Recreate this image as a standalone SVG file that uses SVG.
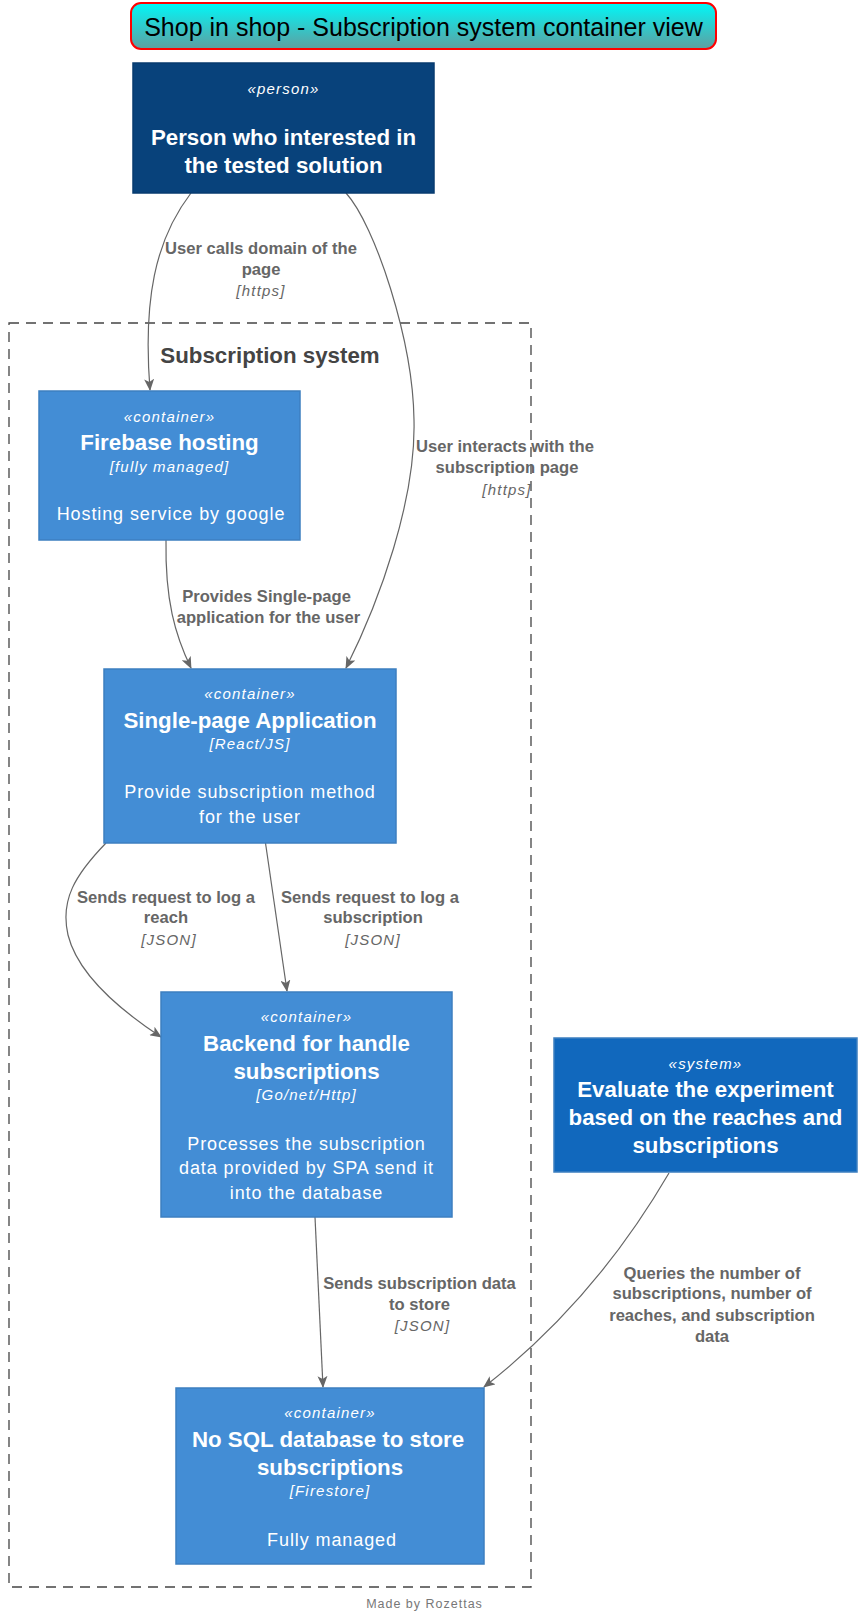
<svg xmlns="http://www.w3.org/2000/svg" width="863" height="1617" viewBox="0 0 863 1617">
<style>
text{font-family:"Liberation Sans",Arial,sans-serif;}
.st{fill:#fff;font-style:italic;font-size:15px;letter-spacing:1.2px;text-anchor:middle;}
.nm{fill:#fff;font-weight:bold;font-size:22.3px;text-anchor:middle;}
.tc{fill:#fff;font-style:italic;font-size:15px;letter-spacing:1.2px;text-anchor:middle;}
.ds{fill:#fff;font-size:18px;letter-spacing:0.9px;text-anchor:middle;}
.lb{fill:#666;font-weight:bold;font-size:16.6px;text-anchor:middle;}
.lt{fill:#666;font-style:italic;font-size:15px;letter-spacing:1.2px;text-anchor:middle;}
.cn{fill:#438dd5;stroke:#3c7fc0;stroke-width:1.5;}
.ln{fill:none;stroke:#666;stroke-width:1.2;}
</style>
<defs>
<linearGradient id="tg" x1="0" y1="0" x2="0" y2="1">
<stop offset="0" stop-color="#00f8f8"/>
<stop offset="1" stop-color="#5f9ea0"/>
</linearGradient>
<marker id="ah" markerWidth="12" markerHeight="10" refX="11" refY="5" orient="auto" markerUnits="userSpaceOnUse">
<path d="M0,0 L12,5 L0,10 L3,5 Z" fill="#666"/>
</marker>
</defs>
<rect width="863" height="1617" fill="#fff"/>
<g id="title">
<rect x="131" y="3" width="585" height="46" rx="10" fill="url(#tg)" stroke="#f00" stroke-width="2"/>
<text x="423.5" y="35.5" font-size="25" text-anchor="middle" fill="#000">Shop in shop - Subscription system container view</text>
</g>
<g id="boundary">
<rect x="9" y="323" width="522" height="1264" fill="none" stroke="#444" stroke-width="1.3" stroke-dasharray="10,7"/>
<text x="270" y="363" font-size="22.3" font-weight="bold" fill="#444" text-anchor="middle">Subscription system</text>
</g>
<g id="connectors">
<path class="ln" marker-end="url(#ah)" d="M191,193 C155,240 143,300 150,390"/>
<path class="ln" marker-end="url(#ah)" d="M346,193 C375,225 413,340 414,420 C416,500 380,600 346,668"/>
<path class="ln" marker-end="url(#ah)" d="M166,540 C165,600 175,635 191,668"/>
<path class="ln" marker-end="url(#ah)" d="M106,843 C75,875 60,900 68,935 C78,975 120,1010 161,1037"/>
<path class="ln" marker-end="url(#ah)" d="M265.5,843 L287,991"/>
<path class="ln" marker-end="url(#ah)" d="M315,1217 L323,1387"/>
<path class="ln" marker-end="url(#ah)" d="M669,1173 C630,1240 570,1320 484,1387"/>
<text class="lb" x="261" y="254">User calls domain of the</text>
<text class="lb" x="261" y="275">page</text>
<text class="lt" x="261" y="296">[https]</text>
<text class="lb" x="505" y="452">User interacts with the</text>
<text class="lb" x="507" y="473">subscription page</text>
<text class="lt" x="507" y="495">[https]</text>
<text class="lb" x="266.5" y="602">Provides Single-page</text>
<text class="lb" x="268.5" y="623">application for the user</text>
<text class="lb" x="166" y="903">Sends request to log a</text>
<text class="lb" x="166" y="923">reach</text>
<text class="lt" x="169" y="945">[JSON]</text>
<text class="lb" x="370" y="903">Sends request to log a</text>
<text class="lb" x="373" y="923">subscription</text>
<text class="lt" x="373" y="945">[JSON]</text>
<text class="lb" x="419.5" y="1289">Sends subscription data</text>
<text class="lb" x="419.5" y="1310">to store</text>
<text class="lt" x="422.5" y="1331">[JSON]</text>
<text class="lb" x="712" y="1279">Queries the number of</text>
<text class="lb" x="712" y="1299">subscriptions, number of</text>
<text class="lb" x="712" y="1321">reaches, and subscription</text>
<text class="lb" x="712" y="1342">data</text>
</g>
<g id="person">
<rect x="133" y="63" width="301" height="130" fill="#08427b" stroke="#073b6f" stroke-width="1.5"/>
<text class="st" x="283.5" y="94">«person»</text>
<text class="nm" x="283.5" y="145">Person who interested in</text>
<text class="nm" x="283.5" y="173">the tested solution</text>
</g>
<g id="firebase">
<rect class="cn" x="39" y="391" width="261" height="149"/>
<text class="st" x="169.5" y="422">«container»</text>
<text class="nm" x="169.5" y="450">Firebase hosting</text>
<text class="tc" x="169.5" y="472">[fully managed]</text>
<text class="ds" x="171" y="520">Hosting service by google</text>
</g>
<g id="spa">
<rect class="cn" x="104" y="669" width="292" height="174"/>
<text class="st" x="250" y="699">«container»</text>
<text class="nm" x="250" y="728">Single-page Application</text>
<text class="tc" x="250" y="749">[React/JS]</text>
<text class="ds" x="250" y="798">Provide subscription method</text>
<text class="ds" x="250" y="823">for the user</text>
</g>
<g id="backend">
<rect class="cn" x="161" y="992" width="291" height="225"/>
<text class="st" x="306.5" y="1022">«container»</text>
<text class="nm" x="306.5" y="1051">Backend for handle</text>
<text class="nm" x="306.5" y="1079">subscriptions</text>
<text class="tc" x="306.5" y="1100">[Go/net/Http]</text>
<text class="ds" x="306.5" y="1150">Processes the subscription</text>
<text class="ds" x="306.5" y="1174">data provided by SPA send it</text>
<text class="ds" x="306.5" y="1199">into the database</text>
</g>
<g id="system">
<rect x="554" y="1038" width="303" height="134" fill="#1168bd" stroke="#3c7fc0" stroke-width="1.5"/>
<text class="st" x="705.5" y="1069">«system»</text>
<text class="nm" x="705.5" y="1097">Evaluate the experiment</text>
<text class="nm" x="705.5" y="1125">based on the reaches and</text>
<text class="nm" x="705.5" y="1153">subscriptions</text>
</g>
<g id="database">
<rect class="cn" x="176" y="1388" width="308" height="176"/>
<text class="st" x="330" y="1418">«container»</text>
<text class="nm" x="328" y="1447">No SQL database to store</text>
<text class="nm" x="330" y="1475">subscriptions</text>
<text class="tc" x="330" y="1496">[Firestore]</text>
<text class="ds" x="332" y="1546">Fully managed</text>
</g>
<g id="footer">
<text x="424.5" y="1608" font-size="12.5" fill="#777" text-anchor="middle" letter-spacing="1">Made by Rozettas</text>
</g>
</svg>
